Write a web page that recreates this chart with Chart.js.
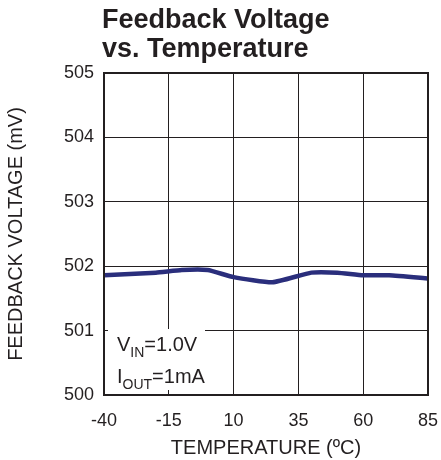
<!DOCTYPE html>
<html>
<head>
<meta charset="utf-8">
<script src="https://cdn.jsdelivr.net/npm/chart.js@4.4.0/dist/chart.umd.min.js"></script>
<style>
  html, body { margin: 0; padding: 0; background: #fff; }
  #wrap { width: 441px; height: 460px; }
</style>
</head>
<body>
<div id="wrap"><canvas id="fb"></canvas></div>
<script>
// temperature (C) and feedback voltage (mV)
const temps = [-40, -20, -10, 0, 10, 25, 40, 50, 60, 70, 85];
const fbVolt = [501.86, 501.90, 501.94, 501.94, 501.83, 501.75, 501.90, 501.90, 501.86, 501.86, 501.81];
const xTicks = [-40, -15, 10, 35, 60, 85];
const yTicks = [500, 501, 502, 503, 504, 505];
const titleLines = ['Feedback Voltage', 'vs. Temperature'];

const FONT = '"Liberation Sans", Arial, sans-serif';
const INK = '#231f20';

// title, plot frame and condition note, drawn by hand like the datasheet
const extras = {
    id: 'extras',
    beforeDatasetsDraw(chart) {
        const c = chart.ctx;
        const a = chart.chartArea;
        c.save();
        c.fillStyle = '#fff';
        c.fillRect(a.left + 4, 329, 97, 61);
        c.restore();
    },
    afterDraw(chart) {
        const c = chart.ctx;
        const a = chart.chartArea;
        c.save();
        c.strokeStyle = INK;
        c.lineWidth = 2;
        c.strokeRect(a.left, a.top, a.right - a.left, a.bottom - a.top);

        c.fillStyle = INK;
        c.font = 'bold 27px ' + FONT;
        c.textBaseline = 'alphabetic';
        c.fillText(titleLines[0], 102, 28);
        c.fillText(titleLines[1], 102, 57);

        // V_IN=1.0V and I_OUT=1mA with subscripts
        function sub(x, y, main, s, rest) {
            c.font = '20px ' + FONT;
            c.fillText(main, x, y);
            x += c.measureText(main).width;
            c.font = '14px ' + FONT;
            c.fillText(s, x, y + 6);
            x += c.measureText(s).width;
            c.font = '20px ' + FONT;
            c.fillText(rest, x, y);
        }
        sub(a.left + 13, 351, 'V', 'IN', '=1.0V');
        sub(a.left + 13, 383, 'I', 'OUT', '=1mA');
        c.restore();
    }
};

new Chart(document.getElementById('fb'), {
    type: 'line',
    data: {
        datasets: [{
            data: temps.map((t, i) => ({ x: t, y: fbVolt[i] })),
            borderColor: '#2a2e7c',
            borderWidth: 4.5,
            pointRadius: 0,
            tension: 0.15,
            fill: false
        }]
    },
    options: {
        responsive: true,
        maintainAspectRatio: false,
        animation: false,
        layout: { padding: { top: 73, right: 13, left: 0, bottom: 0 } },
        plugins: {
            legend: { display: false },
            tooltip: { enabled: false }
        },
        scales: {
            x: {
                type: 'linear',
                min: -40,
                max: 85,
                afterBuildTicks: s => { s.ticks = xTicks.map(v => ({ value: v })); },
                afterFit: s => { s.height = 65; s.paddingLeft = 0; s.paddingRight = 0; },
                grid: { color: INK, lineWidth: 1, drawTicks: false },
                border: { color: INK, width: 2 },
                ticks: { color: INK, font: { family: FONT, size: 18 }, padding: 15, maxRotation: 0 },
                title: {
                    display: true,
                    text: 'TEMPERATURE (ºC)',
                    color: INK,
                    font: { family: FONT, size: 20 },
                    padding: { top: 0, bottom: 0 }
                }
            },
            y: {
                min: 500,
                max: 505,
                afterBuildTicks: s => { s.ticks = yTicks.map(v => ({ value: v })); },
                afterFit: s => { s.width = 104; s.paddingTop = 0; s.paddingBottom = 0; },
                grid: { color: INK, lineWidth: 1, drawTicks: false },
                border: { color: INK, width: 2 },
                ticks: { color: INK, font: { family: FONT, size: 18 }, padding: 10 },
                title: {
                    display: true,
                    text: 'FEEDBACK VOLTAGE (mV)',
                    color: INK,
                    font: { family: FONT, size: 20 },
                    padding: { top: 4, bottom: 4 }
                }
            }
        }
    },
    plugins: [extras]
});
</script>
</body>
</html>
